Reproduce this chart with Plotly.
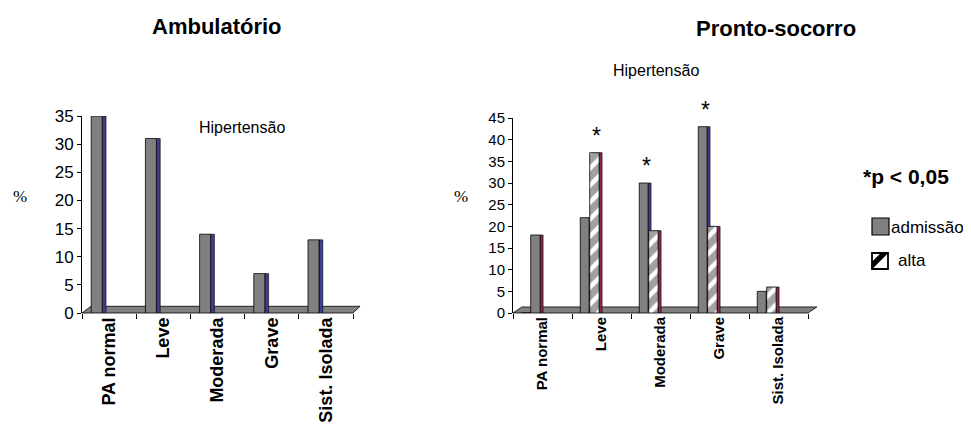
import plotly.graph_objects as go

# ---------------- data ----------------
categories = ["PA normal", "Leve", "Moderada", "Grave", "Sist. Isolada"]
ambulatorio = [35, 31, 14, 7, 13]
ps_admissao = [0, 22, 30, 43, 5]
ps_alta = [18, 37, 19, 20, 6]
# significance markers (category, series)
significant = [("Leve", "alta"), ("Moderada", "admissão"), ("Grave", "admissão")]
left_ticks = [0, 5, 10, 15, 20, 25, 30, 35]
right_ticks = [0, 5, 10, 15, 20, 25, 30, 35, 40, 45]

# the page places the figure 8px from the top-left corner of the window
PAGE_OFF = 8
W, H = 971 - PAGE_OFF, 426 - PAGE_OFF
def px(x):
    return (x - PAGE_OFF) / W
def py(y):
    return 1 - (y - PAGE_OFF) / H

GRAY = "#808080"
BLUE_SIDE = "#3d3d96"
RED_SIDE = "#8c2454"
FONT = "Liberation Sans, Arial, sans-serif"

fig = go.Figure()

# ---------------- left chart (Ambulatório) ----------------
L_OFF, L_W, L_SIDE = -0.33, 0.203, 0.07
fig.add_trace(go.Bar(x=categories, y=ambulatorio, xaxis="x", yaxis="y",
                     offset=L_OFF + L_W, width=L_SIDE,
                     marker=dict(color=BLUE_SIDE, line=dict(color="black", width=0.6)),
                     showlegend=False, hoverinfo="skip"))
fig.add_trace(go.Bar(x=categories, y=ambulatorio, xaxis="x", yaxis="y",
                     offset=L_OFF, width=L_W, name="Ambulatório",
                     marker=dict(color=GRAY, line=dict(color="black", width=0.8)),
                     showlegend=False))

# ---------------- right chart (Pronto-socorro) ----------------
A_OFF, A_W = -0.36, 0.15
B_OFF, B_W = -0.20, 0.16
SIDE = 0.05
fig.add_trace(go.Bar(x=categories, y=ps_admissao, xaxis="x2", yaxis="y2",
                     offset=A_OFF + A_W, width=SIDE,
                     marker=dict(color=BLUE_SIDE, line=dict(color="black", width=0.6)),
                     showlegend=False, hoverinfo="skip"))
fig.add_trace(go.Bar(x=categories, y=ps_alta, xaxis="x2", yaxis="y2",
                     offset=B_OFF + B_W, width=SIDE,
                     marker=dict(color=RED_SIDE, line=dict(color="black", width=0.6)),
                     showlegend=False, hoverinfo="skip"))
fig.add_trace(go.Bar(x=categories, y=ps_admissao, xaxis="x2", yaxis="y2",
                     offset=A_OFF, width=A_W, name="admissão",
                     marker=dict(color=GRAY, line=dict(color="black", width=0.8)),
                     showlegend=False))
alta_colors = [GRAY if i == 0 else "white" for i in range(len(categories))]
alta_shapes = ["" if i == 0 else "/" for i in range(len(categories))]
fig.add_trace(go.Bar(x=categories, y=ps_alta, xaxis="x2", yaxis="y2",
                     offset=B_OFF, width=B_W, name="alta",
                     marker=dict(color=alta_colors, line=dict(color="black", width=0.8),
                                 pattern=dict(shape=alta_shapes, fillmode="overlay",
                                              fgcolor="black", size=12, solidity=0.62)),
                     showlegend=False))

# ---------------- axes ----------------
L_DOM = [px(82), px(353)]
R_DOM = [px(513), px(808)]
Y_L = [py(313), py(116)]
Y_R = [py(313), py(118)]

common_x = dict(type="category", range=[-0.5, 4.5], showline=False, showgrid=False,
                zeroline=False, ticks="outside", tickson="boundaries", ticklen=5,
                tickcolor="black", tickangle=-90, automargin=False)
common_y = dict(showline=True, linecolor="black", linewidth=1, showgrid=False,
                zeroline=False, ticks="outside", ticklen=4, tickcolor="black",
                automargin=False)
fig.update_layout(
    xaxis=dict(common_x, domain=L_DOM, anchor="y",
               tickfont=dict(family=FONT, size=18, color="black", weight="bold")),
    yaxis=dict(common_y, domain=Y_L, range=[0, 35], tickvals=left_ticks, anchor="x",
               tickfont=dict(family=FONT, size=17, color="black")),
    xaxis2=dict(common_x, domain=R_DOM, anchor="y2",
                tickfont=dict(family=FONT, size=15, color="black", weight="bold")),
    yaxis2=dict(common_y, domain=Y_R, range=[0, 45], tickvals=right_ticks, anchor="x2",
                tickfont=dict(family=FONT, size=15, color="black")),
    barmode="overlay",
    width=W, height=H,
    margin=dict(l=0, r=0, t=0, b=0, autoexpand=False),
    paper_bgcolor="white", plot_bgcolor="white",
    font=dict(family=FONT, color="black"),
)

shapes = []
# 3D floors
shapes.append(dict(type="path", xref="x domain", yref="y domain", layer="below",
                   path="M 0 0 L 0.033 0.034 L 1.026 0.034 L 1 0 Z",
                   fillcolor=GRAY, line=dict(color="black", width=0.8)))
shapes.append(dict(type="path", xref="x2 domain", yref="y2 domain", layer="below",
                   path="M 0 0 L 0.03 0.031 L 1.03 0.031 L 1 0 Z",
                   fillcolor=GRAY, line=dict(color="black", width=0.8)))
# manual legend swatches
shapes.append(dict(type="rect", xref="paper", yref="paper",
                   x0=px(872), x1=px(889), y0=py(235), y1=py(218),
                   fillcolor=GRAY, line=dict(color="black", width=1.2)))
shapes.append(dict(type="rect", xref="paper", yref="paper",
                   x0=px(872), x1=px(888), y0=py(269), y1=py(253),
                   fillcolor="white", line=dict(color="black", width=1.8)))
shapes.append(dict(type="path", xref="paper", yref="paper",
                   path=f"M {px(872)} {py(269)} L {px(872)} {py(262)} L {px(881)} {py(253)} "
                        f"L {px(888)} {py(253)} Z",
                   fillcolor="black", line=dict(color="black", width=0.5)))
fig.update_layout(shapes=shapes)

annotations = []
def ann(text, x, y, size, bold=False, family=FONT, xanchor="center"):
    annotations.append(dict(text=text, x=px(x), y=py(y), xref="paper", yref="paper",
                            showarrow=False, xanchor=xanchor, yanchor="middle",
                            font=dict(family=family, size=size, color="black",
                                      weight="bold" if bold else "normal")))

ann("Ambulatório", 217, 26, 22, bold=True)
ann("Pronto-socorro", 776, 29, 22, bold=True)
ann("Hipertensão", 242, 128, 16)
ann("Hipertensão", 656, 70, 16)
ann("%", 20, 196, 17, family="Liberation Serif, Times New Roman, serif")
ann("%", 461, 196, 17, family="Liberation Serif, Times New Roman, serif")
ann("*p < 0,05", 861, 176, 21, bold=True, xanchor="left")
ann("admissão", 889, 227, 17, xanchor="left")
ann("alta", 896, 260, 17, xanchor="left")

# significance asterisks
series_vals = {"admissão": (ps_admissao, A_OFF + A_W / 2),
               "alta": (ps_alta, B_OFF + B_W / 2)}
for cat, ser in significant:
    vals, off = series_vals[ser]
    i = categories.index(cat)
    annotations.append(dict(text="*", x=i + off + 0.04, y=vals[i], xref="x2", yref="y2",
                            showarrow=False, xanchor="center", yanchor="bottom", yshift=2,
                            font=dict(family=FONT, size=23, color="black")))
fig.update_layout(annotations=annotations)

fig.write_html("out.html")
